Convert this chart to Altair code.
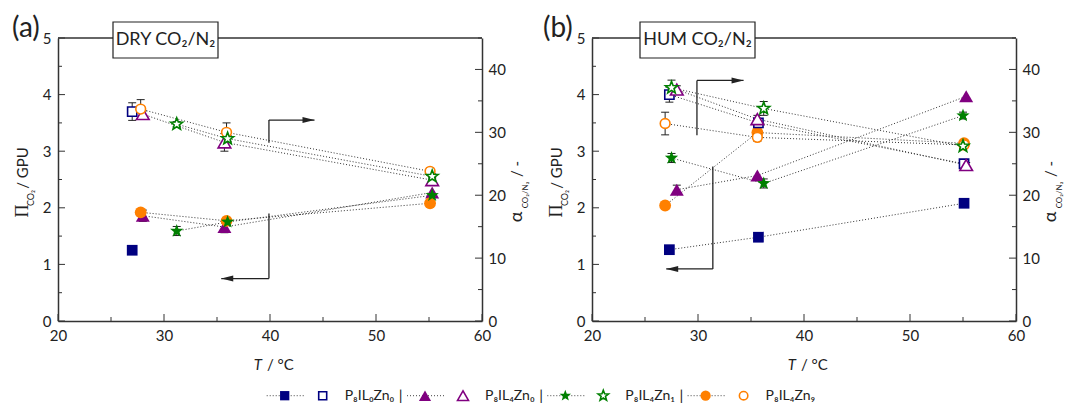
import math
import altair as alt
import pandas as pd

FONT = "Lato"
INK = "#222222"
FRAME = "#333333"
W, H = 424, 283

# ---------------- data ----------------
series = ["P8IL0Zn0", "P8IL4Zn0", "P8IL4Zn9", "P8IL4Zn1"]          # drawing order
legend_order = ["P8IL0Zn0", "P8IL4Zn0", "P8IL4Zn1", "P8IL4Zn9"]
legend_labels = ["P₈IL₀Zn₀", "P₈IL₄Zn₀", "P₈IL₄Zn₁", "P₈IL₄Zn₉"]

x_ticks = [20, 30, 40, 50, 60]
x_minor = [25, 35, 45, 55]
perm_ticks = [0, 1, 2, 3, 4, 5]
perm_minor = [0.5, 1.5, 2.5, 3.5, 4.5]
sel_ticks = [0, 10, 20, 30, 40]
sel_minor = [5, 15, 25, 35, 45]

# (a) DRY CO2/N2 : temperature (°C), permeance (GPU, filled), selectivity (-, open)
dry_T = {"P8IL0Zn0": [27.0], "P8IL4Zn0": [28.0, 35.7, 55.3],
         "P8IL4Zn1": [31.2, 36.0, 55.3], "P8IL4Zn9": [27.8, 35.9, 55.1]}
dry_perm = {"P8IL0Zn0": [1.25], "P8IL4Zn0": [1.86, 1.66, 2.27],
            "P8IL4Zn1": [1.59, 1.75, 2.22], "P8IL4Zn9": [1.92, 1.77, 2.08]}
dry_perm_err = {"P8IL0Zn0": [0.0], "P8IL4Zn0": [0.10, 0.10, 0.0],
                "P8IL4Zn1": [0.08, 0.0, 0.0], "P8IL4Zn9": [0.0, 0.0, 0.0]}
dry_sel = {"P8IL0Zn0": [33.3], "P8IL4Zn0": [32.9, 28.4, 22.4],
           "P8IL4Zn1": [31.3, 29.0, 23.0], "P8IL4Zn9": [33.7, 30.0, 23.8]}
dry_sel_err = {"P8IL0Zn0": [1.4], "P8IL4Zn0": [0.5, 1.4, 0.4],
               "P8IL4Zn1": [0.4, 0.5, 0.4], "P8IL4Zn9": [1.5, 1.5, 0.5]}
dry_arrow_x1 = [39.9, 39.9, 39.9, 39.9]
dry_arrow_y1 = [3.15, 3.55, 1.90, 0.75]
dry_arrow_x2 = [39.9, 44.2, 39.9, 35.4]
dry_arrow_y2 = [3.55, 3.55, 0.75, 0.75]

# (b) HUM CO2/N2
hum_T = {"P8IL0Zn0": [27.3, 35.7, 55.1], "P8IL4Zn0": [28.0, 35.6, 55.3],
         "P8IL4Zn1": [27.5, 36.2, 55.0], "P8IL4Zn9": [26.9, 35.6, 55.1]}
hum_perm = {"P8IL0Zn0": [1.26, 1.48, 2.08], "P8IL4Zn0": [2.32, 2.57, 3.97],
            "P8IL4Zn1": [2.88, 2.43, 3.63], "P8IL4Zn9": [2.04, 3.33, 3.14]}
hum_perm_err = {"P8IL0Zn0": [0.0, 0.0, 0.0], "P8IL4Zn0": [0.08, 0.0, 0.0],
                "P8IL4Zn1": [0.08, 0.08, 0.06], "P8IL4Zn9": [0.0, 0.0, 0.0]}
hum_sel = {"P8IL0Zn0": [36.0, 31.5, 25.0], "P8IL4Zn0": [36.8, 32.1, 24.8],
           "P8IL4Zn1": [37.1, 33.8, 27.8], "P8IL4Zn9": [31.4, 29.2, 28.0]}
hum_sel_err = {"P8IL0Zn0": [1.2, 0.6, 0.4], "P8IL4Zn0": [0.6, 0.6, 0.4],
               "P8IL4Zn1": [1.2, 1.1, 0.4], "P8IL4Zn9": [1.8, 0.6, 0.4]}
hum_arrow_x1 = [29.9, 29.9, 31.4, 31.4]
hum_arrow_y1 = [3.28, 4.25, 2.73, 0.92]
hum_arrow_x2 = [29.9, 34.3, 31.4, 27.0]
hum_arrow_y2 = [4.25, 4.25, 0.92, 0.92]

# ---------------- styles ----------------
def star_path(inner=0.42):
    pts = []
    for k in range(10):
        ang = -math.pi / 2 + k * math.pi / 5
        r = 1.0 if k % 2 == 0 else inner
        pts.append(f"{r * math.cos(ang):.3f},{r * math.sin(ang):.3f}")
    return "M" + " L".join(pts) + " Z"

STAR = star_path()
HEAD_R = "M1,0 L-1,-0.5 L-1,0.5 Z"
HEAD_L = "M-1,0 L1,-0.5 L1,0.5 Z"

COLORS = {"P8IL0Zn0": "#000080", "P8IL4Zn0": "#800080", "P8IL4Zn1": "#008000", "P8IL4Zn9": "#FF8000"}
SHAPES = {"P8IL0Zn0": "square", "P8IL4Zn0": "triangle-up", "P8IL4Zn1": STAR, "P8IL4Zn9": "circle"}
FSIZE = {"P8IL0Zn0": 115, "P8IL4Zn0": 195, "P8IL4Zn1": 195, "P8IL4Zn9": 140}
OSIZE = {"P8IL0Zn0": 85, "P8IL4Zn0": 160, "P8IL4Zn1": 160, "P8IL4Zn9": 95}

XS = alt.Scale(domain=[20, 60], nice=False, zero=False)
XA = alt.Axis(values=x_ticks, title=None, tickSize=0, labelPadding=7, format="d", labelFlush=False)
YLS = alt.Scale(domain=[0, 5], nice=False)
YLA = alt.Axis(values=perm_ticks, title=None, tickSize=0, labelPadding=7, format="d", orient="left")
YRS = alt.Scale(domain=[0, 45], nice=False)
YRA = alt.Axis(values=sel_ticks, title=None, tickSize=0, labelPadding=6, format="d", orient="right")

ONE = pd.DataFrame({"k": [0]})
DOT = [1, 2]


def txt(text, x, y, size=15, angle=0, align="center", style="normal", font=FONT, baseline="middle"):
    return alt.Chart(ONE).mark_text(
        text=text, font=font, fontSize=size, fontStyle=style, angle=angle,
        align=align, baseline=baseline, color=INK
    ).encode(x=alt.value(x), y=alt.value(y))


def tidy(T, vals, errs):
    rows = []
    for s in series:
        for t, v, e in zip(T[s], vals[s], errs[s]):
            rows.append({"series": s, "T": t, "v": v, "lo": round(v - e, 3), "hi": round(v + e, 3)})
    return pd.DataFrame(rows)


def X(f="T:Q"):
    return alt.X(f, scale=XS, axis=XA)


def YL(f):
    return alt.Y(f, scale=YLS, axis=YLA)


def YR(f):
    return alt.Y(f, scale=YRS, axis=YRA)


def build_panel(T, perm, perm_err, sel, sel_err, ax1, ay1, ax2, ay2,
                box_text, box_x0, box_x1, tag, tag_x, legend):
    fdf = tidy(T, perm, perm_err)
    odf = tidy(T, sel, sel_err)
    ferr = fdf[fdf.hi - fdf.lo > 0.001]
    oerr = odf[odf.hi - odf.lo > 0.001]
    arrows = pd.DataFrame({"x1": ax1, "y1": ay1, "x2": ax2, "y2": ay2})
    tip_r = pd.DataFrame({"T": [ax2[1]], "v": [ay2[1]]})
    tip_l = pd.DataFrame({"T": [ax2[3]], "v": [ay2[3]]})

    left = [
        alt.Chart(ONE).mark_rule(color=FRAME, strokeWidth=1.5).encode(
            x=alt.value(0), x2=alt.value(W), y=alt.value(0)),
        alt.Chart(pd.DataFrame({"v": perm_ticks})).mark_rule(color=FRAME, strokeWidth=1).encode(
            y=YL("v:Q"), x=alt.value(0), x2=alt.value(7)),
        alt.Chart(pd.DataFrame({"v": perm_minor})).mark_rule(color=FRAME, strokeWidth=1).encode(
            y=YL("v:Q"), x=alt.value(0), x2=alt.value(4)),
        alt.Chart(pd.DataFrame({"T": x_ticks})).mark_rule(color=FRAME, strokeWidth=1).encode(
            x=X(), y=alt.value(H), y2=alt.value(H - 7)),
        alt.Chart(pd.DataFrame({"T": x_minor})).mark_rule(color=FRAME, strokeWidth=1).encode(
            x=X(), y=alt.value(H), y2=alt.value(H - 4)),
        alt.Chart(fdf).mark_line(strokeDash=DOT, color="#333333", strokeWidth=1).encode(
            x=X(), y=YL("v:Q"), detail="series:N"),
        alt.Chart(ferr).mark_rule(color=INK, strokeWidth=1).encode(
            x=X(), y=YL("lo:Q"), y2="hi:Q"),
        alt.Chart(ferr).transform_fold(["lo", "hi"], as_=["k", "cap"]).mark_point(
            shape="stroke", size=64, color=INK, strokeWidth=1, opacity=1).encode(
            x=X(), y=YL("cap:Q")),
    ]
    for s in series:
        left.append(alt.Chart(fdf[fdf.series == s]).mark_point(
            shape=SHAPES[s], filled=True, color=COLORS[s], size=FSIZE[s], opacity=1
        ).encode(x=X(), y=YL("v:Q")))
    left += [
        alt.Chart(arrows).mark_rule(color=INK, strokeWidth=1.3).encode(
            x=X("x1:Q"), x2="x2:Q", y=YL("y1:Q"), y2="y2:Q"),
        alt.Chart(tip_r).mark_point(shape=HEAD_R, filled=True, color=INK, size=144,
                                    opacity=1, xOffset=-6).encode(x=X(), y=YL("v:Q")),
        alt.Chart(tip_l).mark_point(shape=HEAD_L, filled=True, color=INK, size=144,
                                    opacity=1, xOffset=6).encode(x=X(), y=YL("v:Q")),
        alt.Chart(ONE).mark_rect(fill="white", stroke=INK, strokeWidth=1.2).encode(
            x=alt.value(box_x0), x2=alt.value(box_x1), y=alt.value(-16), y2=alt.value(20)),
        txt(box_text, (box_x0 + box_x1) / 2, 2, size=18),
        txt(tag, tag_x, -9, size=28, align="left"),
        txt("T", W / 2 - 8, 327, size=15, style="italic", align="right"),
        txt("/ °C", W / 2 - 3, 327, size=15, align="left"),
        txt("Π", -35, 173, size=18, angle=270, font="Liberation Serif"),
        txt("CO₂", -27, 160, size=9, angle=270),
        txt("/ GPU", -35, 130, size=15, angle=270),
    ]
    if legend:
        LY = 357.7
        for i, (s, lab) in enumerate(zip(legend_order, legend_labels)):
            b = 208.7 + 140.3 * i
            left.append(alt.Chart(ONE).mark_rule(strokeDash=DOT, color="#444444", strokeWidth=1).encode(
                x=alt.value(b), x2=alt.value(b + 37), y=alt.value(LY)))
            left.append(alt.Chart(ONE).mark_point(
                shape=SHAPES[s], filled=True, color=COLORS[s], size=FSIZE[s] * 0.75, opacity=1
            ).encode(x=alt.value(b + 18), y=alt.value(LY)))
            left.append(alt.Chart(ONE).mark_point(
                shape=SHAPES[s], filled=True, fill="white", stroke=COLORS[s], strokeWidth=1.6,
                size=OSIZE[s] * 0.75, opacity=1
            ).encode(x=alt.value(b + 56), y=alt.value(LY)))
            left.append(txt(lab, b + 78, LY, size=14, align="left"))
            if i < 3:
                left.append(txt("|", b + 134, LY, size=15))

    right = [
        alt.Chart(pd.DataFrame({"v": sel_ticks})).mark_rule(color=FRAME, strokeWidth=1).encode(
            y=YR("v:Q"), x=alt.value(W), x2=alt.value(W - 7)),
        alt.Chart(pd.DataFrame({"v": sel_minor})).mark_rule(color=FRAME, strokeWidth=1).encode(
            y=YR("v:Q"), x=alt.value(W), x2=alt.value(W - 4)),
        alt.Chart(odf).mark_line(strokeDash=DOT, color="#333333", strokeWidth=1).encode(
            x=X(), y=YR("v:Q"), detail="series:N"),
        alt.Chart(oerr).mark_rule(color=INK, strokeWidth=1).encode(
            x=X(), y=YR("lo:Q"), y2="hi:Q"),
        alt.Chart(oerr).transform_fold(["lo", "hi"], as_=["k", "cap"]).mark_point(
            shape="stroke", size=64, color=INK, strokeWidth=1, opacity=1).encode(
            x=X(), y=YR("cap:Q")),
    ]
    for s in series:
        right.append(alt.Chart(odf[odf.series == s]).mark_point(
            shape=SHAPES[s], filled=True, fill="white", stroke=COLORS[s], strokeWidth=1.6,
            size=OSIZE[s], opacity=1
        ).encode(x=X(), y=YR("v:Q")))
    right += [
        txt("α", W + 35, 179, size=18, angle=270),
        txt("CO₂/N₂", W + 44, 157, size=8, angle=270),
        txt("/ -", W + 35, 131, size=15, angle=270),
    ]

    return alt.layer(alt.layer(*left), alt.layer(*right)).resolve_scale(
        y="independent").properties(width=W, height=H)


panel_a = build_panel(dry_T, dry_perm, dry_perm_err, dry_sel, dry_sel_err,
                      dry_arrow_x1, dry_arrow_y1, dry_arrow_x2, dry_arrow_y2,
                      "DRY CO₂/N₂", 55, 160, "(a)", -46, True)
panel_b = build_panel(hum_T, hum_perm, hum_perm_err, hum_sel, hum_sel_err,
                      hum_arrow_x1, hum_arrow_y1, hum_arrow_x2, hum_arrow_y2,
                      "HUM CO₂/N₂", 48, 163, "(b)", -49, False)

chart = alt.hconcat(panel_a, panel_b, spacing=110, bounds="flush").properties(
    padding={"left": 12, "top": 15, "right": 0, "bottom": 0}
).configure_view(strokeWidth=0).configure_axis(
    labelFont=FONT, labelFontSize=15, labelColor=INK, domainColor=FRAME,
    domainWidth=1.5, grid=False
)

chart.save("out.html", embed_options={"renderer": "svg", "actions": False})
